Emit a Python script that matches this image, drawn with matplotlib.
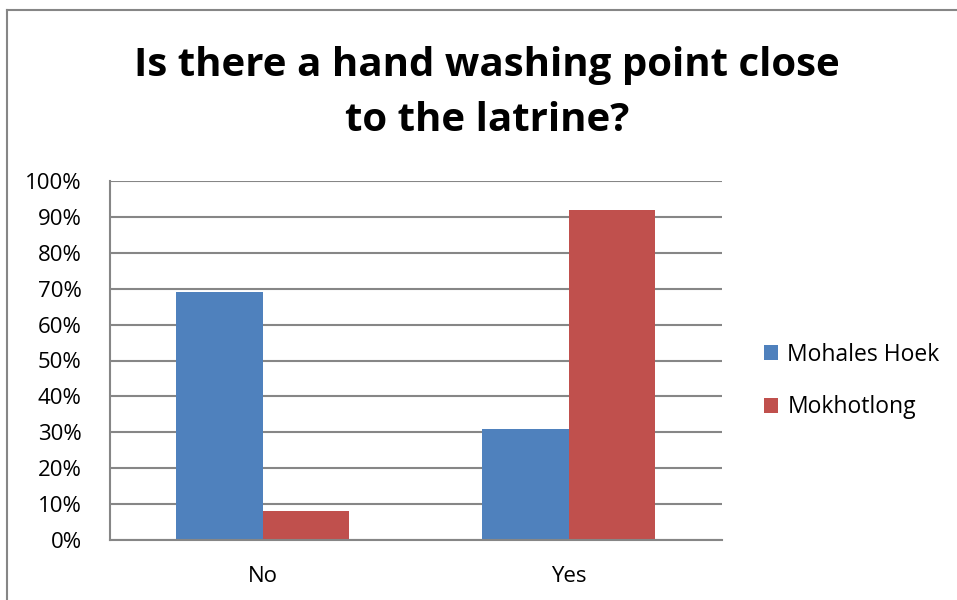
import matplotlib
matplotlib.use("Agg")
import matplotlib.pyplot as plt
from matplotlib.lines import Line2D
from matplotlib.patches import Patch
import numpy as np

categories = ["No", "Yes"]
series_names = ["Mohales Hoek", "Mokhotlong"]
mohales_hoek = [69.2, 30.8]
mokhotlong = [8.1, 91.9]
y_ticks = [0, 10, 20, 30, 40, 50, 60, 70, 80, 90, 100]
title = "Is there a hand washing point close\nto the latrine?"

colors = ["#4F81BD", "#C0504D"]
grid_color = "#868686"

W, H = 957, 600
fig = plt.figure(figsize=(W / 100, H / 100), dpi=100)
plt.rcParams["font.family"] = ["Open Sans", "DejaVu Sans"]

# plot area in pixel coordinates
left, right, top, bottom = 109.5, 721.5, 181, 540
ax = fig.add_axes([left / W, 1 - bottom / H, (right - left) / W, (bottom - top) / H])

x = np.arange(len(categories))
bw = 0.284
ax.bar(x - bw / 2, mohales_hoek, bw, color=colors[0], zorder=3)
ax.bar(x + bw / 2, mokhotlong, bw, color=colors[1], zorder=3)

ax.set_xlim(-0.5, len(categories) - 0.5)
ax.set_ylim(0, 100)
ax.set_yticks(y_ticks)
ax.set_yticklabels([f"{v}%" for v in y_ticks], fontsize=16)
ax.set_xticks(x)
ax.set_xticklabels(categories, fontsize=16)
ax.tick_params(axis="y", length=0, pad=20)
ax.tick_params(axis="x", length=0, pad=19)
ax.yaxis.grid(True, color=grid_color, linewidth=1.5, zorder=0)
for side in ["top", "right"]:
    ax.spines[side].set_visible(False)
for side in ["left", "bottom"]:
    ax.spines[side].set_color(grid_color)
    ax.spines[side].set_linewidth(1.5)
ax.spines["bottom"].set_zorder(4)

fig.text(487 / W, 1 - 93 / H, title, ha="center", va="center", fontsize=29,
         fontweight="bold", linespacing=1.53)

handles = [Patch(facecolor=c, edgecolor="none") for c in colors]
fig.legend(handles, series_names, loc="center left",
           bbox_to_anchor=(764 / W, 1 - 381 / H), frameon=False, fontsize=16.5,
           handlelength=0.62, handleheight=0.62, handletextpad=0.4,
           labelspacing=1.25, borderaxespad=0, borderpad=0)

# outer chart border (top and left edges)
fig.add_artist(Line2D([7 / W, 1], [1 - 10 / H, 1 - 10 / H], color=grid_color, linewidth=1.5))
fig.add_artist(Line2D([7 / W, 7 / W], [0, 1 - 10 / H], color=grid_color, linewidth=1.5))

fig.savefig("out.png", dpi=100, facecolor="white")
